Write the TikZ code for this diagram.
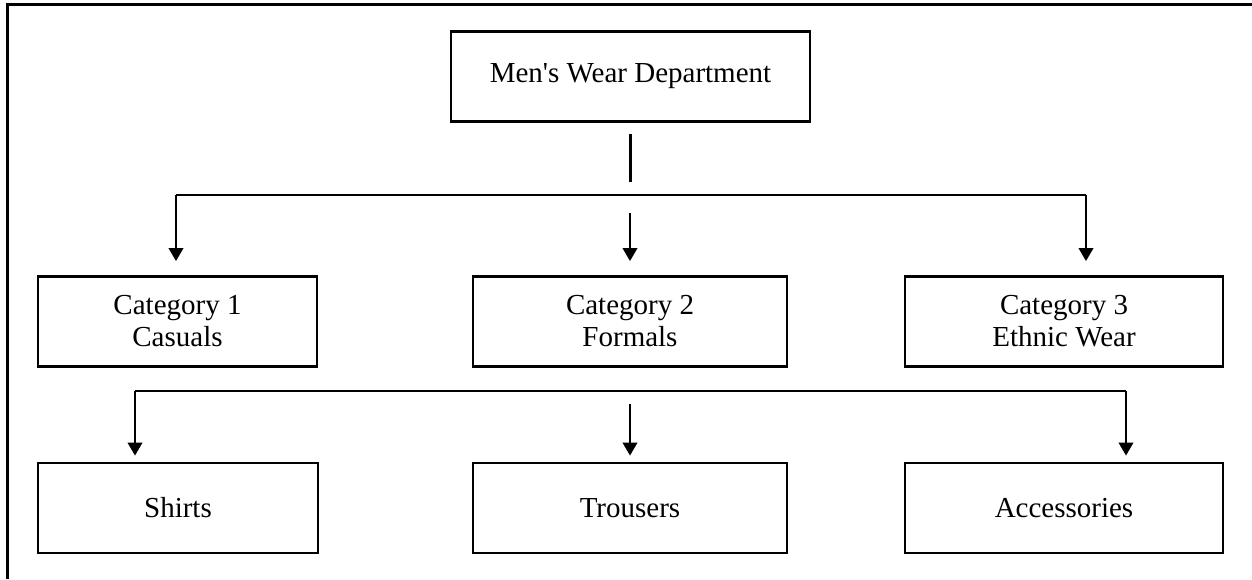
\documentclass[tikz,border=0pt]{standalone}
\usepackage{fontspec}
\setmainfont{Liberation Serif}
\usetikzlibrary{arrows.meta}

\begin{document}
\begin{tikzpicture}[x=0.02cm,y=-0.02cm,
		box/.style={draw,line width=1.6pt,minimum width=#1*0.02cm,minimum height=1.8cm,inner sep=0pt,align=center,font=\fontsize{16.5}{18.2}\selectfont},
		box/.default=300,
		conn/.style={line width=1.35pt},
		arrow/.style={conn,-{Triangle[width=8.2pt,length=7.4pt]},shorten >=#1*0.02cm},
		arrow/.default=14]
		
		\useasboundingbox (0,0) rectangle (1252,579);
		
		%frame
		\draw[line width=1.7pt] (7.5,579) -- (7.5,4.5) -- (1252,4.5);
		
		%department
		\node[box=359] (dept) at (630.5,76.5) {Men\textquotesingle s Wear Department};
		
		%categories
		\foreach \n/\x/\w/\txt in {cat1/177.5/279/{Category 1\\Casuals},cat2/630/314/{Category 2\\Formals},cat3/1064/318/{Category 3\\Ethnic Wear}}
		{
			\node[box=\w] (\n) at (\x,321.5) {\txt};
		}
		
		%products
		\foreach \n/\x/\w/\txt in {shirts/178/280/Shirts,trousers/630/314/Trousers,access/1064/318/Accessories}
		{
			\node[box=\w] (\n) at (\x,508) {\txt};
		}
		
		%connectors, level 1
		\coordinate (l1a) at (176,195);
		\coordinate (l1b) at (1086,195);
		\coordinate (l1m) at (630,213);
		\draw[conn,shorten <=0.22cm,shorten >=0.26cm] (dept.south) -- (dept.south |- l1a);
		\draw[conn] (l1a) -- (l1b);
		\draw[arrow] (l1a) -- (l1a |- cat1.north);
		\draw[arrow] (l1m) -- (l1m |- cat2.north);
		\draw[arrow] (l1b) -- (l1b |- cat3.north);
		
		%connectors, level 2
		\coordinate (l2a) at (135,391);
		\coordinate (l2b) at (1126,391);
		\coordinate (l2m) at (630,404);
		\draw[conn] (l2a) -- (l2b);
		\draw[arrow=6] (l2a) -- (l2a |- shirts.north);
		\draw[arrow=6] (l2m) -- (l2m |- trousers.north);
		\draw[arrow=6] (l2b) -- (l2b |- access.north);
		
\end{tikzpicture}
\end{document}
